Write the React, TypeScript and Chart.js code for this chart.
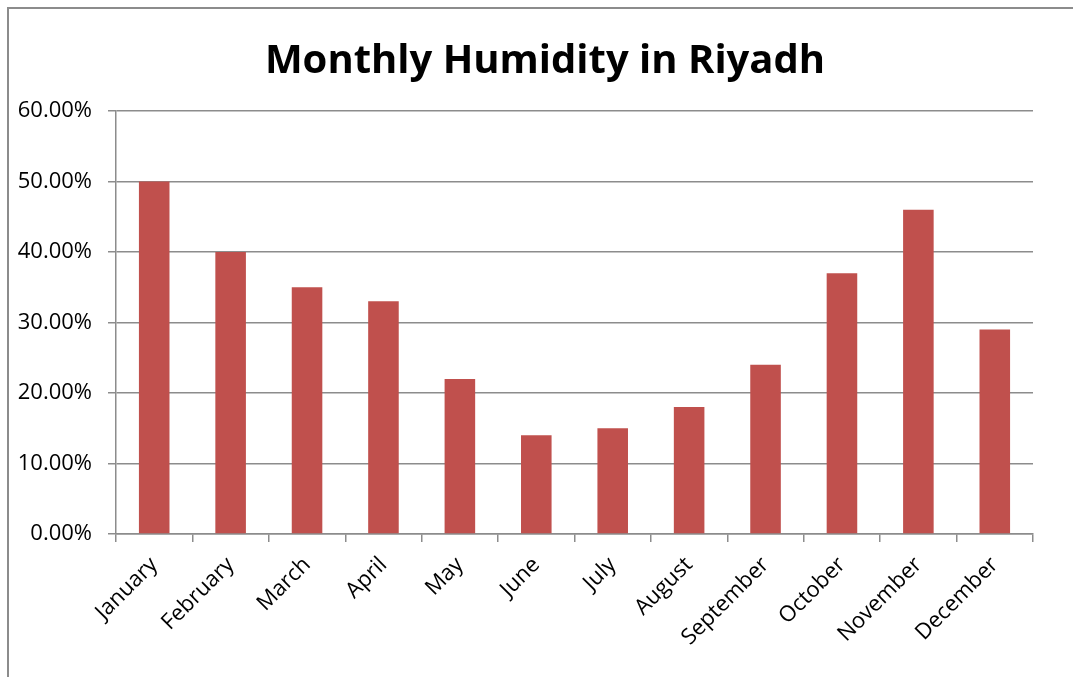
import React, { useEffect, useRef } from "react";
import { Chart, registerables } from "chart.js";

Chart.register(...registerables);

const chartTitle = "Monthly Humidity in Riyadh";
const months = [
  "January", "February", "March", "April", "May", "June",
  "July", "August", "September", "October", "November", "December",
];
const humidity = [50, 40, 35, 33, 22, 14, 15, 18, 24, 37, 46, 29];
const yMin = 0;
const yMax = 60;
const yStep = 10;

const FONT = "'Open Sans', 'DejaVu Sans', sans-serif";

// let the y-axis labels use the space left of the layout padding
const widenYScale = {
  id: "widenYScale",
  afterLayout(chart: any) {
    const y = chart.scales.y;
    if (y) {
      y.left = 0;
      y.width = y.right;
    }
  },
};

export default function App() {
  const ref = useRef<HTMLCanvasElement | null>(null);

  useEffect(() => {
    document.body.style.overflow = "hidden";
    const canvas = ref.current;
    if (!canvas) return;
    const chart = new Chart(canvas, {
      type: "bar",
      data: {
        labels: months,
        datasets: [
          {
            label: "Humidity",
            data: humidity,
            backgroundColor: "#C0504D",
            borderWidth: 0,
            barPercentage: 0.4,
            categoryPercentage: 1,
          },
        ],
      },
      plugins: [widenYScale],
      options: {
        responsive: false,
        animation: false,
        layout: { padding: { left: 48, right: 40, top: 0, bottom: 0 } },
        plugins: {
          legend: { display: false },
          tooltip: { enabled: false },
          title: {
            display: true,
            text: chartTitle,
            color: "#000",
            font: { family: FONT, size: 40, weight: "bold" },
            padding: { top: 29, bottom: 25 },
          },
        },
        scales: {
          x: {
            grid: {
              display: true,
              drawOnChartArea: false,
              drawTicks: true,
              tickLength: 8,
              color: "#8c8c8c",
              lineWidth: 1.5,
              offset: true,
            },
            border: { display: true, color: "#8c8c8c", width: 1.5 },
            ticks: {
              color: "#000",
              font: { family: FONT, size: 22 },
              maxRotation: 45,
              minRotation: 45,
              padding: 10,
              autoSkip: false,
            },
            afterFit: (scale: any) => {
              scale.height = 143;
            },
          },
          y: {
            min: yMin,
            max: yMax,
            grid: {
              color: "#8c8c8c",
              lineWidth: 1.5,
              tickLength: 8,
            },
            border: { display: true, color: "#8c8c8c", width: 1.5 },
            ticks: {
              stepSize: yStep,
              color: "#000",
              font: { family: FONT, size: 22 },
              padding: 16,
              callback: (v: any) => Number(v).toFixed(2) + "%",
            },
            afterFit: (scale: any) => {
              scale.width = 59;
            },
          },
        },
      },
    });
    return () => chart.destroy();
  }, []);

  return (
    <div
      style={{
        position: "absolute",
        left: 7,
        top: 7,
        width: 1066,
        height: 670,
        borderLeft: "2px solid #8c8c8c",
        borderTop: "2px solid #8c8c8c",
        background: "#fff",
      }}
    >
      <canvas ref={ref} width={1064} height={668} style={{ display: "block" }} />
    </div>
  );
}
